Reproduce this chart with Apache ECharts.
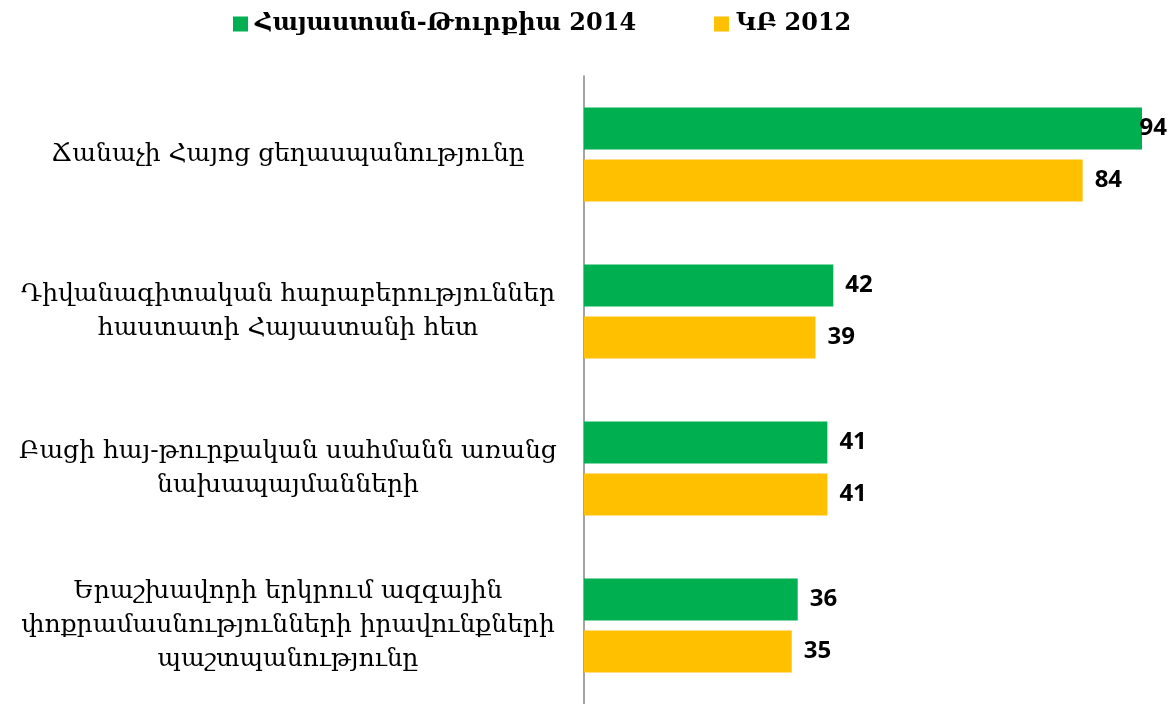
<!DOCTYPE html>
<html>
<head>
<meta charset="utf-8">
<script src="https://cdn.jsdelivr.net/npm/echarts@6/dist/echarts.min.js"></script>
<style>
  html, body { margin: 0; padding: 0; background: #fff; }
  #chart { width: 1175px; height: 704px; }
</style>
</head>
<body>
<div id="chart"></div>
<script>
const categories = [
  'Ճանաչի Հայոց ցեղասպանությունը',
  'Դիվանագիտական հարաբերություններ\nհաստատի Հայաստանի հետ',
  'Բացի հայ-թուրքական սահմանն առանց\nնախապայմանների',
  'Երաշխավորի երկրում ազգային\nփոքրամասնությունների իրավունքների\nպաշտպանությունը'
];
const seriesNames = ['Հայաստան-Թուրքիա 2014', 'ԿԲ 2012'];
const values2014 = [94, 42, 41, 36];
const values2012 = [84, 39, 41, 35];

const xMax = 94;
const labelFont = 'DejaVu Serif';

// near-max bars: the number sits over the bar end, like the original
function toItems(vals) {
  return vals.map(v => v >= xMax - 2
    ? { value: v, label: { position: 'insideRight', offset: [37, 0] } }
    : v);
}

const legendText = { fontFamily: labelFont, fontWeight: 'bold', fontSize: 24, color: '#000', padding: [0, 0, 0, 2] };

const chart = echarts.init(document.getElementById('chart'));
chart.setOption({
  animation: false,
  color: ['#00B050', '#FFC000'],
  legend: [
    {
      data: [seriesNames[0]],
      left: 228, top: 7,
      itemWidth: 15, itemHeight: 15, icon: 'rect',
      textStyle: legendText
    },
    {
      data: [seriesNames[1]],
      left: 709, top: 7,
      itemWidth: 15, itemHeight: 15, icon: 'rect',
      textStyle: legendText
    }
  ],
  grid: { left: 584, right: 33, top: 76, bottom: -3, containLabel: false },
  xAxis: {
    type: 'value', min: 0, max: xMax,
    show: false
  },
  yAxis: {
    type: 'category',
    data: categories,
    inverse: true,
    axisLine: { show: true, lineStyle: { color: '#868686', width: 1.5 } },
    axisTick: { show: false },
    axisLabel: {
      margin: 296,
      align: 'center',
      fontFamily: labelFont,
      fontSize: 25,
      lineHeight: 34,
      color: '#000'
    }
  },
  series: [
    {
      name: seriesNames[0], type: 'bar',
      data: toItems(values2014),
      barWidth: 42, barGap: '24%', barCategoryGap: '40%',
      label: { show: true, position: 'right', distance: 12,
        fontFamily: 'Open Sans', fontWeight: 'bold', fontSize: 24, color: '#000' }
    },
    {
      name: seriesNames[1], type: 'bar',
      data: toItems(values2012),
      barWidth: 42,
      label: { show: true, position: 'right', distance: 12,
        fontFamily: 'Open Sans', fontWeight: 'bold', fontSize: 24, color: '#000' }
    }
  ]
});
</script>
</body>
</html>
